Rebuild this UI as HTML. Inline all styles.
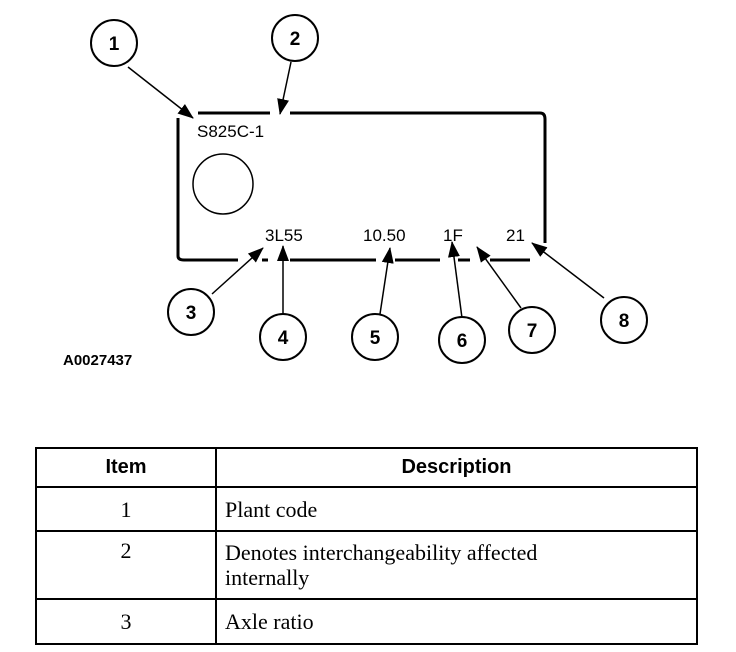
<!DOCTYPE html>
<html><head><style>
body{margin:0;width:736px;height:652px;background:#fff;overflow:hidden;position:relative}
svg{position:absolute;left:0;top:0}
table{position:absolute;left:35px;top:447px;width:663px;border-collapse:collapse;font-family:"Liberation Serif",serif;font-size:22px}
td{border:2px solid #000;padding:0 8px;line-height:25px}
</style></head><body>
<svg width="736" height="652" font-family="Liberation Sans,sans-serif" font-weight="bold">
<defs>
<marker id="b" markerWidth="16" markerHeight="16" refX="15" refY="8" orient="auto" markerUnits="userSpaceOnUse" viewBox="0 0 16 16"><path d="M0,2 L16,8 L0,14z" fill="#000"/></marker></defs>
<g stroke="#000" stroke-width="3" fill="none">
<path d="M198,113 L270,113 M290,113 L540,113 Q545,113 545,119 L545,243"/>
<path d="M178,118 L178,256 Q178,260 184,260 L238,260 M262,260 L268,260 M290,260 L376,260 M395,260 L440,260 M458,260 L470,260 M490,260 L530,260"/>
</g>
<circle cx="223" cy="184" r="30" fill="none" stroke="#000" stroke-width="1.5"/>
<g font-weight="normal" font-size="17">
<text x="197" y="137">S825C-1</text>
<text x="265" y="241">3L55</text><text x="363" y="241">10.50</text><text x="443" y="241">1F</text><text x="506" y="241">21</text>
</g>
<g stroke="#000" stroke-width="1.5">
<line x1="128" y1="67" x2="193" y2="118" marker-end="url(#b)"/>
<line x1="291" y1="62" x2="280" y2="114" marker-end="url(#b)"/>
<line x1="212" y1="294" x2="263" y2="248" marker-end="url(#b)"/>
<line x1="283" y1="315" x2="283" y2="246" marker-end="url(#b)"/>
<line x1="380" y1="314" x2="390" y2="248" marker-end="url(#b)"/>
<line x1="462" y1="318" x2="452" y2="242" marker-end="url(#b)"/>
<line x1="521" y1="308" x2="477" y2="247" marker-end="url(#b)"/>
<line x1="604" y1="298" x2="532" y2="243" marker-end="url(#b)"/>
</g>
<g fill="#fff" stroke="#000" stroke-width="2">
<circle cx="114" cy="43" r="23"/><circle cx="295" cy="38" r="23"/>
<circle cx="191" cy="312" r="23"/><circle cx="283" cy="337" r="23"/>
<circle cx="375" cy="337" r="23"/><circle cx="462" cy="340" r="23"/>
<circle cx="532" cy="330" r="23"/><circle cx="624" cy="320" r="23"/>
</g>
<g font-size="19" text-anchor="middle">
<text x="114" y="50">1</text><text x="295" y="45">2</text><text x="191" y="319">3</text><text x="283" y="344">4</text>
<text x="375" y="344">5</text><text x="462" y="347">6</text><text x="532" y="337">7</text><text x="624" y="327">8</text>
</g>
<text x="63" y="365" font-size="15">A0027437</text>
</svg>
<table>
<tr style="height:39px"><td style="width:162px;text-align:center;font-family:'Liberation Sans',sans-serif;font-weight:bold;font-size:20px">Item</td><td style="text-align:center;font-family:'Liberation Sans',sans-serif;font-weight:bold;font-size:20px">Description</td></tr>
<tr style="height:44px"><td style="text-align:center">1</td><td>Plant code</td></tr>
<tr style="height:68px"><td style="text-align:center;vertical-align:top;padding-top:6px">2</td><td>Denotes interchangeability affected<br>internally</td></tr>
<tr style="height:45px"><td style="text-align:center">3</td><td>Axle ratio</td></tr>
</table>
</body></html>
